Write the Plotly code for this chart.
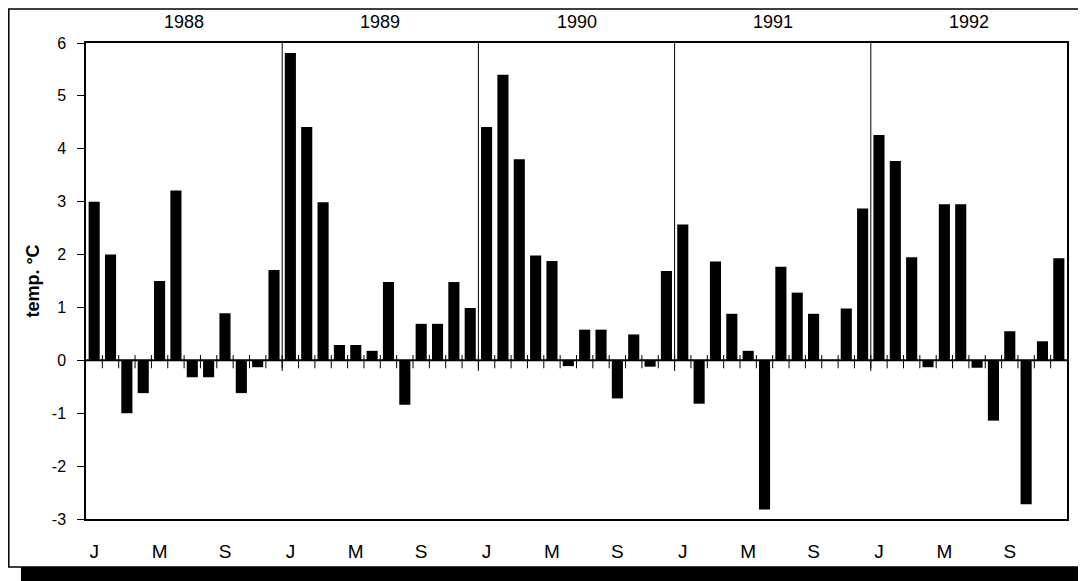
import plotly.graph_objects as go

years = ["1988", "1989", "1990", "1991", "1992"]
month_letters = ["J", "M", "S"]
y1988 = [3.0, 2.0, -1.0, -0.62, 1.5, 3.21, -0.32, -0.32, 0.89, -0.62, -0.13, 1.71]
y1989 = [5.81, 4.41, 2.99, 0.29, 0.29, 0.18, 1.48, -0.84, 0.69, 0.69, 1.48, 0.99]
y1990 = [4.41, 5.40, 3.80, 1.98, 1.88, -0.11, 0.58, 0.58, -0.72, 0.49, -0.12, 1.69]
y1991 = [2.57, -0.82, 1.87, 0.88, 0.18, -2.82, 1.77, 1.28, 0.88, 0.0, 0.98, 2.87]
y1992 = [4.26, 3.77, 1.95, -0.13, 2.95, 2.95, -0.14, -1.14, 0.55, -2.72, 0.36, 1.93]
y_ticks = [-3, -2, -1, 0, 1, 2, 3, 4, 5, 6]
y_ticklabels = ["-3", "-2", "-1", "0", "1", "2", "3", "4", "5", "6"]

values = y1988 + y1989 + y1990 + y1991 + y1992
n = len(values)
xs = list(range(n))

FONT = "Liberation Sans"

fig = go.Figure()
fig.add_trace(go.Bar(x=xs, y=values, marker=dict(color="black", line=dict(width=0)),
                     showlegend=False))

shapes = []
# zero line
shapes.append(dict(type="line", xref="x", yref="y", x0=-0.5, x1=n - 0.5, y0=0, y1=0,
                   line=dict(color="black", width=2)))
# month boundary ticks crossing zero line
for i in range(n - 1):
    shapes.append(dict(type="line", xref="x", yref="y", x0=i + 0.5, x1=i + 0.5,
                       y0=0.1, y1=-0.15, line=dict(color="black", width=1)))
# year dividers
for k in range(1, len(years)):
    xb = 12 * k - 0.5
    shapes.append(dict(type="line", xref="x", yref="y", x0=xb, x1=xb, y0=6, y1=-0.2,
                       line=dict(color="black", width=1)))
# outer frame + shadow
shapes.append(dict(type="rect", xref="paper", yref="paper", x0=-0.0663, x1=1.04,
                   y0=-0.16, y1=-0.1008, fillcolor="black", line=dict(width=0), layer="below"))
shapes.append(dict(type="rect", xref="paper", yref="paper", x0=1.0163, x1=1.04,
                   y0=-0.16, y1=1.0378, fillcolor="black", line=dict(width=0), layer="below"))
shapes.append(dict(type="rect", xref="paper", yref="paper", x0=-0.0787, x1=1.0153,
                   y0=-0.1008, y1=1.0714, fillcolor="white", line=dict(color="black", width=1.5),
                   layer="below"))

annotations = []
for k, yr in enumerate(years):
    annotations.append(dict(x=12 * k + 5.5, y=1.044, xref="x", yref="paper", text=yr,
                            showarrow=False, font=dict(family=FONT, size=18, color="black"),
                            xanchor="center", yanchor="middle"))

tickvals = [i for i in range(n) if i % 4 == 0]
ticktext = [month_letters[(i % 12) // 4] for i in tickvals]

fig.update_layout(
    width=1078, height=573,
    margin=dict(l=78, r=19, t=35, b=62),
    paper_bgcolor="white", plot_bgcolor="white",
    bargap=0.32,
    shapes=shapes, annotations=annotations,
    xaxis=dict(range=[-0.5, n - 0.5], tickvals=tickvals, ticktext=ticktext, ticks="",
               showgrid=False, zeroline=False, showline=True, linecolor="black", linewidth=1.5,
               mirror=True, ticklabelstandoff=14,
               tickfont=dict(family=FONT, size=19, color="black")),
    yaxis=dict(range=[-3, 6], tickvals=y_ticks, ticktext=y_ticklabels, ticks="outside",
               ticklen=7, tickcolor="black",
               showgrid=False, zeroline=False, showline=True, linecolor="black", linewidth=1.5,
               mirror=True, ticklabelstandoff=8,
               tickfont=dict(family=FONT, size=16, color="black")),
)
fig.update_yaxes(title=dict(text="<b>temp. °C</b>", font=dict(family=FONT, size=18, color="black"),
                            standoff=8))

fig.write_html("out.html")
